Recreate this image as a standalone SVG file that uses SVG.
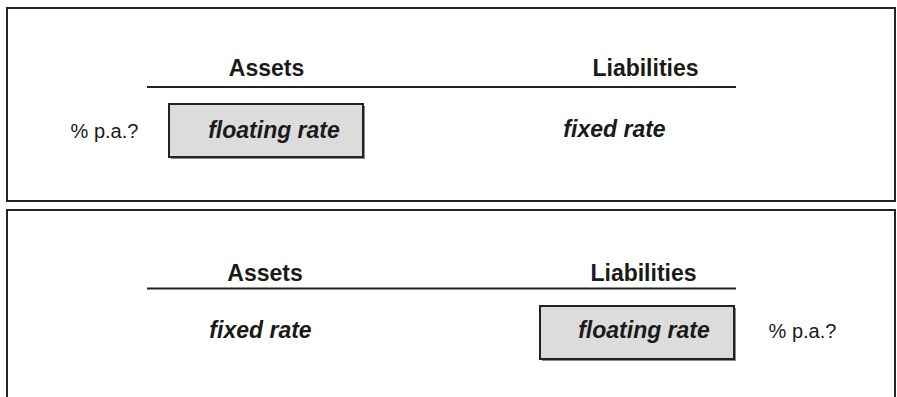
<svg xmlns="http://www.w3.org/2000/svg" width="897" height="397" viewBox="0 0 897 397">
  <defs>
    <style>
      .frame { fill: none; stroke: #222; stroke-width: 2; }
      .rule { stroke: #222; stroke-width: 2; }
      .box { fill: #dcdcdc; stroke: #222; stroke-width: 2; }
      .shadow { fill: #8a8a8a; }
      .head { font-family: "Liberation Sans", Arial, sans-serif; font-weight: bold; font-size: 23px; fill: #1a1a1a; text-anchor: middle; }
      .rate { font-family: "Liberation Sans", Arial, sans-serif; font-weight: bold; font-style: italic; font-size: 23px; fill: #1a1a1a; text-anchor: middle; }
      .pa { font-family: "Liberation Sans", Arial, sans-serif; font-size: 20px; fill: #1a1a1a; text-anchor: middle; }
    </style>
  </defs>
  <rect width="897" height="397" fill="#fff"/>

  <!-- Panel 1: floating-rate asset funded by fixed-rate liability -->
  <g id="panel-top">
    <rect class="frame" x="7" y="8" width="888" height="193"/>
    <text class="head" x="266.5" y="76">Assets</text>
    <text class="head" x="645.5" y="76">Liabilities</text>
    <line class="rule" x1="147" y1="87" x2="736" y2="87"/>
    <text class="pa" x="104.5" y="138">% p.a.?</text>
    <g id="top-asset-box">
      <rect class="shadow" x="171" y="106" width="194" height="53"/>
      <rect class="box" x="169" y="104" width="194" height="53"/>
      <text class="rate" x="274" y="138">floating rate</text>
    </g>
    <text class="rate" x="614.5" y="137">fixed rate</text>
  </g>

  <!-- Panel 2: fixed-rate asset funded by floating-rate liability -->
  <g id="panel-bottom">
    <rect class="frame" x="7" y="210" width="888" height="200"/>
    <text class="head" x="265" y="280.5">Assets</text>
    <text class="head" x="643.5" y="280.5">Liabilities</text>
    <line class="rule" x1="147" y1="288.5" x2="736" y2="288.5"/>
    <text class="rate" x="260.5" y="338">fixed rate</text>
    <g id="bottom-liability-box">
      <rect class="shadow" x="542" y="308" width="194" height="53"/>
      <rect class="box" x="540" y="306" width="194" height="53"/>
      <text class="rate" x="644" y="338">floating rate</text>
    </g>
    <text class="pa" x="802.5" y="338">% p.a.?</text>
  </g>
</svg>
